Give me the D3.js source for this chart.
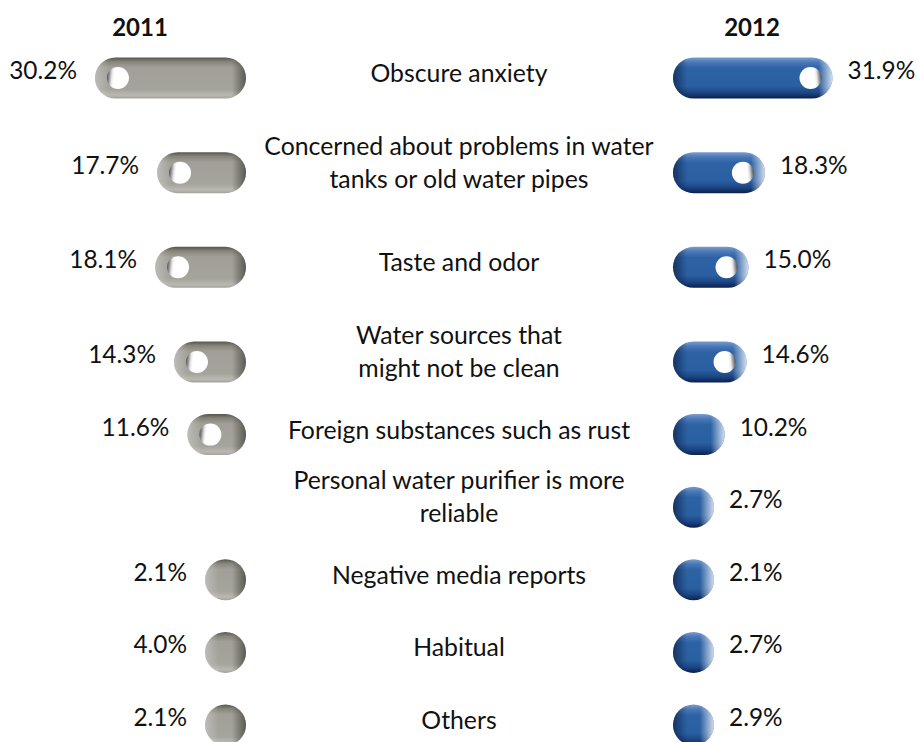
<!DOCTYPE html>
<html>
<head>
<meta charset="utf-8">
<script src="https://cdn.jsdelivr.net/npm/d3@7"></script>
<style>
  html, body { margin: 0; padding: 0; background: #fff; }
  svg { display: block; }
  text { font-family: Lato, "Open Sans", sans-serif; fill: #111; }
</style>
</head>
<body>
<div id="chart"></div>
<script>
// ---------------- data ----------------
const years = ["2011", "2012"];
const categories = [
  "Obscure anxiety",
  "Concerned about problems in water\ntanks or old water pipes",
  "Taste and odor",
  "Water sources that\nmight not be clean",
  "Foreign substances such as rust",
  "Personal water purifier is more\nreliable",
  "Negative media reports",
  "Habitual",
  "Others"
];
const values2011 = [30.2, 17.7, 18.1, 14.3, 11.6, null, 2.1, 4.0, 2.1];
const values2012 = [31.9, 18.3, 15.0, 14.6, 10.2, 2.7, 2.1, 2.7, 2.9];

// ---------------- layout ----------------
const W = 917, H = 742;
const barH = 41;
const leftAnchor = 246;   // right edge of 2011 bars
const rightAnchor = 673;  // left edge of 2012 bars
const centerX = 459;
const fontSize = 24.8;
const valueFont = 24.4;

const svg = d3.select("#chart").append("svg")
  .attr("width", W).attr("height", H);

const y = d3.scaleLinear().domain([0, 3, 8]).range([78, 362, 725]);
const len = d3.scaleLinear().domain([0, 32]).range([1, 160]);

const defs = svg.append("defs");

function vGrad(id, stops) {
  const g = defs.append("linearGradient").attr("id", id)
    .attr("x1", 0).attr("y1", 0).attr("x2", 0).attr("y2", 1);
  stops.forEach(s => g.append("stop").attr("offset", s[0]).attr("stop-color", s[1]));
}
vGrad("grayV", [[0, "#57564c"], [0.1, "#85847b"], [0.24, "#a19f98"], [0.78, "#a4a39c"], [0.92, "#b9b8b1"], [1, "#a3a29a"]]);
vGrad("blueV", [[0, "#7b9ccd"], [0.12, "#4a77b6"], [0.26, "#2d63a5"], [0.7, "#2a5fa1"], [0.86, "#1b4583"], [1, "#0b1f4c"]]);

function knobGrad(id, flip) {
  const g = defs.append("linearGradient").attr("id", id)
    .attr("x1", flip ? 1 : 0).attr("y1", 0.4).attr("x2", flip ? 0 : 1).attr("y2", 0.5);
  [[0, "#505050"], [0.1, "#8e8e8e"], [0.22, "#e6e6e6"], [0.32, "#ffffff"], [1, "#ffffff"]]
    .forEach(s => g.append("stop").attr("offset", s[0]).attr("stop-color", s[1]));
}
knobGrad("knobL", false);
knobGrad("knobR", true);

function hGrad(id, x0, x1, leftColor, leftOp, rightColor, rightOp) {
  const w = x1 - x0;
  const e = Math.min(0.45, 14 / w);
  const g = defs.append("linearGradient").attr("id", id)
    .attr("gradientUnits", "userSpaceOnUse")
    .attr("x1", x0).attr("y1", 0).attr("x2", x1).attr("y2", 0);
  g.append("stop").attr("offset", 0).attr("stop-color", leftColor).attr("stop-opacity", leftOp);
  g.append("stop").attr("offset", e).attr("stop-color", leftColor).attr("stop-opacity", 0);
  g.append("stop").attr("offset", 1 - e).attr("stop-color", rightColor).attr("stop-opacity", 0);
  g.append("stop").attr("offset", 1).attr("stop-color", rightColor).attr("stop-opacity", rightOp);
}

// ---------------- titles ----------------
svg.append("text").attr("x", 140).attr("y", 36).attr("text-anchor", "middle")
  .attr("font-weight", "bold").attr("font-size", 24).text(years[0]);
svg.append("text").attr("x", 752).attr("y", 36).attr("text-anchor", "middle")
  .attr("font-weight", "bold").attr("font-size", 24).text(years[1]);

// ---------------- bars ----------------
function drawSeries(values, side) {
  const rows = values.map((v, i) => ({ v, i })).filter(d => d.v != null);
  const g = svg.append("g");
  rows.forEach(d => {
    const w = Math.max(barH, len(d.v));
    const x0 = side === "left" ? leftAnchor - w : rightAnchor;
    const x1 = x0 + w;
    const cy = y(d.i);
    const top = cy - barH / 2;
    const id = `h-${side}-${d.i}`;
    if (side === "left") hGrad(id, x0, x1, "#ffffff", 0.28, "#2a281f", 0.6);
    else hGrad(id, x0, x1, "#061535", 0.6, "#eef2fa", 0.85);

    g.append("rect").attr("x", x0).attr("y", top).attr("width", w).attr("height", barH)
      .attr("rx", barH / 2).attr("ry", barH / 2)
      .attr("fill", side === "left" ? "url(#grayV)" : "url(#blueV)");
    g.append("rect").attr("x", x0).attr("y", top).attr("width", w).attr("height", barH)
      .attr("rx", barH / 2).attr("ry", barH / 2)
      .attr("fill", `url(#${id})`);

    if (w > barH + 14) {
      const kx = side === "left" ? x0 + 23 : x1 - 22;
      g.append("circle").attr("cx", kx).attr("cy", cy).attr("r", 11)
        .attr("fill", side === "left" ? "url(#knobL)" : "url(#knobR)");
    }

    // value label
    const lab = g.append("text").attr("y", cy + 1).attr("font-size", valueFont)
      .text(d.v.toFixed(1) + "%");
    if (side === "left") lab.attr("x", x0 - 18).attr("text-anchor", "end");
    else lab.attr("x", x1 + 15).attr("text-anchor", "start");
  });
}
drawSeries(values2011, "left");
drawSeries(values2012, "right");

// ---------------- category labels ----------------
categories.forEach((c, i) => {
  const lines = c.split("\n");
  const cy = y(i);
  const t = svg.append("text").attr("text-anchor", "middle").attr("font-size", fontSize);
  if (lines.length === 1) {
    t.append("tspan").attr("x", centerX).attr("y", cy + 4).text(lines[0]);
  } else {
    t.append("tspan").attr("x", centerX).attr("y", cy - 18).text(lines[0]);
    t.append("tspan").attr("x", centerX).attr("y", cy + 15).text(lines[1]);
  }
});
</script>
</body>
</html>
